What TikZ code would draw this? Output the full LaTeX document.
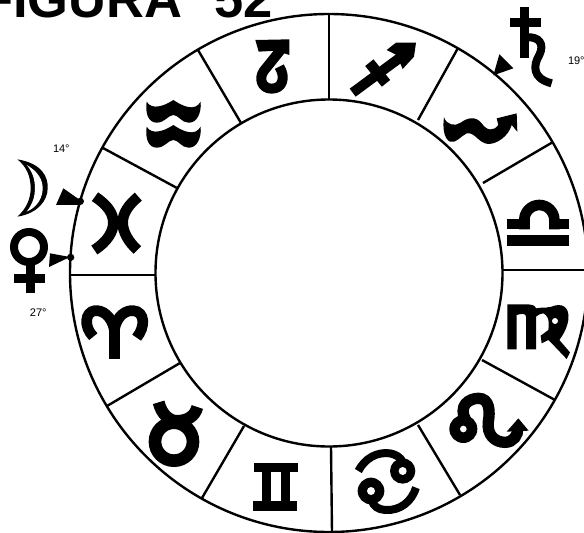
\documentclass[tikz,border=0pt]{standalone}
\usepackage{fontspec}
\setmainfont{Liberation Sans}
\tikzset{
  ring/.style={line width=2.4pt,draw=black},
  spoke/.style={line width=2.4pt,draw=black},
  z1/.style={x=0.33333pt,y=-0.33333pt},
  z2/.style={shift={(290pt,0pt)},x=0.33333pt,y=-0.33333pt},
  z3/.style={shift={(0pt,-265pt)},x=0.33333pt,y=-0.33333pt},
  z4/.style={shift={(290pt,-265pt)},x=0.33333pt,y=-0.33333pt},
  ink/.style={fill=black,draw=none},
  band/.style={line width=#1*0.33333pt,draw=black},
  hole/.style={fill=white,draw=none},
  deg/.style={font=\fontsize{11}{11}\selectfont,anchor=base west,inner sep=0pt,outer sep=0pt}
}
\begin{document}
\begin{tikzpicture}[x=1pt,y=-1pt]
\useasboundingbox (0,0) rectangle (584,533);
\clip (0,0) rectangle (584,533);
% title
\node[font=\bfseries\fontsize{52.5}{52.5}\selectfont,anchor=base west,inner sep=0pt] (title) at (-19,17) {FIGURA\ \ \hspace{3pt}52};
% wheel
\coordinate (c) at (329,273);
\draw[ring] (c) circle[radius=259];
\draw[ring] (c) circle[radius=173.5];
\draw[spoke] (329,14)--(329,99);
\draw[spoke] (458,48)--(418,120);
\draw[spoke] (553,142)--(483,183);
\draw[spoke] (584,270)--(503,270);
\draw[spoke] (555,400)--(482,360);
\draw[spoke] (460,495)--(418,425);
\draw[spoke] (332,532)--(331,447);
\draw[spoke] (202,498)--(244,426);
\draw[spoke] (107,406)--(180,363);
\draw[spoke] (70,275)--(155,275);
\draw[spoke] (103,148)--(177,188);
\draw[spoke] (198,50)--(241,123);
% capricorn
\begin{scope}[z1]
\fill[ink] (766,120)--(868,118)--(868,165)--(830,152)--(776,155)--cycle;
\draw[band=30,line join=round] (850,140) -- (792,212) .. controls (775,235) and (785,266) .. (815,266) .. controls (848,266) and (858,232) .. (838,200);
% aquarius
\foreach \dy in {0,75}{
\fill[ink,yshift=-\dy*0.33333pt] (440,305) .. controls (455,330) and (490,320) .. (520,300) .. controls (550,320) and (585,335) .. (602,305) .. controls (605,340) and (590,370) .. (565,368) .. controls (545,368) and (535,345) .. (520,345) .. controls (505,345) and (495,368) .. (470,368) .. controls (445,368) and (435,340) .. (440,305)--cycle;
}
% pisces
\draw[band=32] (285,590) .. controls (322,615) and (340,640) .. (340,668) .. controls (340,695) and (322,725) .. (283,750);
\draw[band=32] (415,590) .. controls (385,615) and (368,640) .. (368,668) .. controls (368,695) and (385,725) .. (412,750);
\fill[ink] (335,650) rectangle (372,686);
% moon
\fill[ink] (52,478) .. controls (125,490) and (145,530) .. (143,565) .. controls (143,600) and (115,640) .. (52,650) .. controls (80,625) and (92,595) .. (92,565) .. controls (92,530) and (80,500) .. (52,478)--cycle;
\fill[hole] (80,495) .. controls (115,515) and (128,540) .. (128,565) .. controls (128,590) and (115,620) .. (80,635) .. controls (100,610) and (105,585) .. (105,565) .. controls (105,540) and (98,515) .. (80,495)--cycle;
% moon marker
\fill[ink] (168,615)--(190,565)--(240,600)--(235,615)--cycle;
\fill[ink] (241,604) circle[radius=11];
\end{scope}
% venus
\draw[line width=8pt] (29,247) circle[radius=15];
\draw[line width=9pt] (30,265)--(30,293);
\draw[line width=9pt] (14,278)--(45,278);
\begin{scope}[z1]
\fill[ink] (150,760)--(210,771)--(147,801)--cycle;
\fill[ink] (212,772) circle[radius=11];
\end{scope}
% sagittarius, scorpio, libra, saturn
\begin{scope}[z2]
\draw[band=30] (188,278)--(345,162);
\draw[band=32] (238,188)--(288,250);
\fill[ink] (290,150)--(318,128)--(378,128)--(372,170)--(338,207)--(320,165)--cycle;
\fill[ink] (462,352) .. controls (470,375) and (495,380) .. (512,368) .. controls (530,355) and (555,345) .. (575,370) .. controls (590,392) and (610,395) .. (625,375) -- (620,355) -- (680,340) -- (682,395) -- (665,375) .. controls (655,410) and (620,432) .. (595,432) .. controls (565,430) and (555,395) .. (530,400) .. controls (510,410) and (500,430) .. (480,425) .. controls (460,415) and (458,380) .. (462,352)--cycle;
\fill[ink] (652,705) rectangle (838,738);
\fill[ink] (650,658) rectangle (720,688);
\fill[ink] (778,658) rectangle (838,688);
\draw[band=32] (703,688)--(703,660) arc[start angle=180,end angle=360,radius=45]--(793,688);
% saturn
\draw[band=28] (704,22)--(704,175);
\draw[band=26] (660,67)--(752,67);
\draw[band=24] (712,112) .. controls (745,110) and (765,130) .. (748,165) .. controls (730,195) and (725,235) .. (785,250);
\fill[ink] (628,163)--(670,205)--(610,226)--cycle;
\end{scope}
\begin{scope}[z3]
% aries
\draw[band=33] (343,190)--(343,283);
\draw[band=32] (343,195) .. controls (335,150) and (305,135) .. (285,137) .. controls (255,140) and (250,185) .. (280,215);
\draw[band=32] (343,195) .. controls (350,150) and (380,135) .. (400,137) .. controls (435,140) and (437,185) .. (410,218);
% taurus
\draw[band=38] (522,530) circle[radius=57];
\draw[band=36] (476,412) .. controls (485,450) and (510,468) .. (530,468) .. controls (560,468) and (585,455) .. (592,426);
% gemini
\fill[ink] (762,593) rectangle (893,622);
\fill[ink] (760,708) rectangle (890,737);
\fill[ink] (785,600) rectangle (813,720);
\fill[ink] (842,600) rectangle (870,720);
\end{scope}
\begin{scope}[z4]
% cancer
\fill[ink] (338,618) circle[radius=38];
\fill[hole] (338,618) circle[radius=12];
\fill[ink] (243,678) circle[radius=40];
\fill[hole] (243,678) circle[radius=12];
\draw[band=24] (205,618) .. controls (225,580) and (260,560) .. (300,565) .. controls (315,568) and (330,575) .. (338,590);
\draw[band=24] (378,668) .. controls (365,710) and (330,738) .. (285,735) .. controls (265,733) and (250,725) .. (245,705);
% leo
\fill[ink] (520,492) circle[radius=42];
\fill[hole] (520,492) circle[radius=10];
\draw[band=34] (530,470) .. controls (500,420) and (540,400) .. (565,400) .. controls (600,400) and (600,440) .. (595,470) .. controls (590,510) and (615,532) .. (645,532) .. controls (670,532) and (685,510) .. (683,490);
\fill[ink] (650,500)--(685,460)--(716,497)--cycle;
% virgo
\fill[ink] (652,118)--(715,118) .. controls (735,120) and (738,125) .. (738,135)--(738,253)--(708,253)--(708,155) .. controls (708,145) and (695,145) .. (680,150)--(680,253)--(652,253)--cycle;
\fill[ink] (738,130) .. controls (770,125) and (775,130) .. (785,125) .. controls (815,112) and (840,125) .. (835,165) .. controls (830,195) and (815,215) .. (808,225) -- (840,262) -- (830,282) -- (790,240) -- (775,225) -- (755,235) -- (752,212) -- (775,195) .. controls (780,160) and (770,150) .. (760,145) .. controls (750,145) and (745,150) .. (738,155) -- cycle;
\fill[hole] (795,168) circle[radius=9];
\end{scope}
% small texts
\node[deg] (t14) at (53,152) {14°};
\node[deg] (t27) at (30,316) {27°};
\node[deg] (t19) at (568,64) {19°};
\end{tikzpicture}
\end{document}
